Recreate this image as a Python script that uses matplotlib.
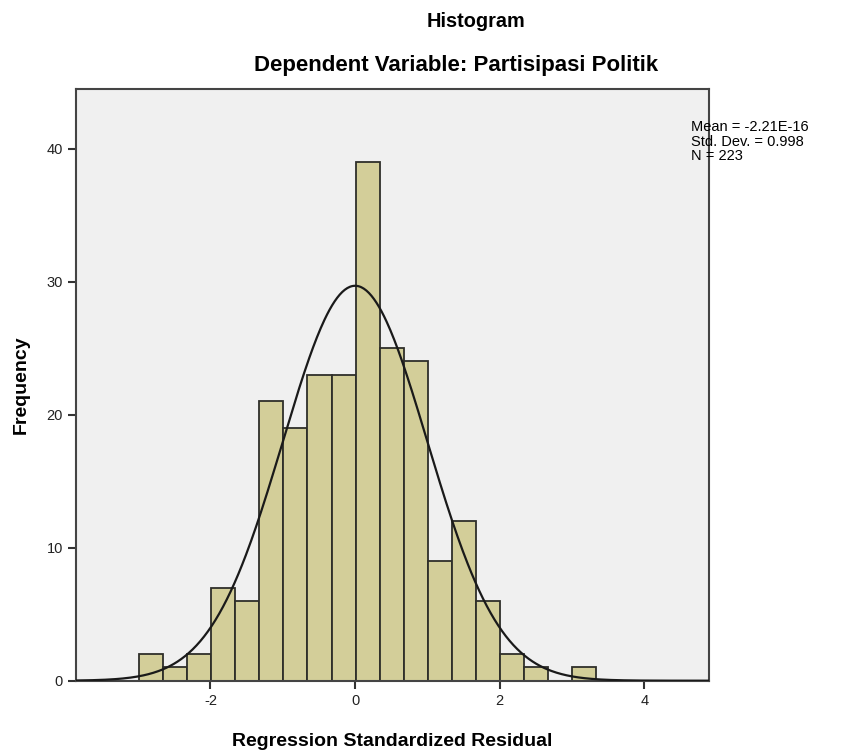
import numpy as np
import matplotlib
matplotlib.use("Agg")
import matplotlib.pyplot as plt

plt.rcParams['font.family'] = ['Liberation Sans', 'DejaVu Sans']

# histogram counts (19 bins)
counts = [2, 1, 2, 7, 6, 21, 19, 23, 23, 39, 25, 24, 9, 12, 6, 2, 1, 0, 1]
bin_start = -2.99
bin_width = 0.333

mean = -2.21e-16
std = 0.998
n = 223

xticks = [-2, 0, 2, 4]
yticks = [0, 10, 20, 30, 40]

edges = bin_start + bin_width * np.arange(len(counts) + 1)

fig = plt.figure(figsize=(8.52, 7.56), dpi=100)
ax = fig.add_axes([0.0892, 0.0996, 0.7426, 0.7831])
ax.set_facecolor('#f0f0f0')

ax.bar(edges[:-1], counts, width=bin_width, align='edge',
       color='#d3ce99', edgecolor='#2f2f2a', linewidth=1.3, zorder=2)

xs = np.linspace(-3.86, 4.89, 500)
ys = n * bin_width / (std * np.sqrt(2 * np.pi)) * np.exp(-0.5 * ((xs - mean) / std) ** 2)
ax.plot(xs, ys, color='#1a1a1a', linewidth=1.6, zorder=3)

ax.set_xlim(-3.86, 4.89)
ax.set_ylim(0, 44.5)
ax.set_xticks(xticks)
ax.set_xticklabels([str(t) for t in xticks])
ax.set_yticks(yticks)
ax.tick_params(direction='out', length=6, width=1.5, color='#333333',
               labelsize=10.5, labelcolor='#222222')
for s in ax.spines.values():
    s.set_linewidth(1.5)
    s.set_color('#444444')

ax.set_xlabel('Regression Standardized Residual', fontsize=14, fontweight='bold', labelpad=18)
ax.set_ylabel('Frequency', fontsize=14, fontweight='bold', labelpad=12)

fig.text(0.559, 0.971, 'Histogram', ha='center', va='center', fontsize=14.3, fontweight='bold')
fig.text(0.535, 0.913, 'Dependent Variable: Partisipasi Politik', ha='center', va='center',
         fontsize=16, fontweight='bold')

fig.text(0.811, 0.841, 'Mean = -2.21E-16\nStd. Dev. = 0.998\nN = 223', ha='left', va='top',
         fontsize=10.5, linespacing=1.05)

fig.savefig('out.png', dpi=100, facecolor='white')
